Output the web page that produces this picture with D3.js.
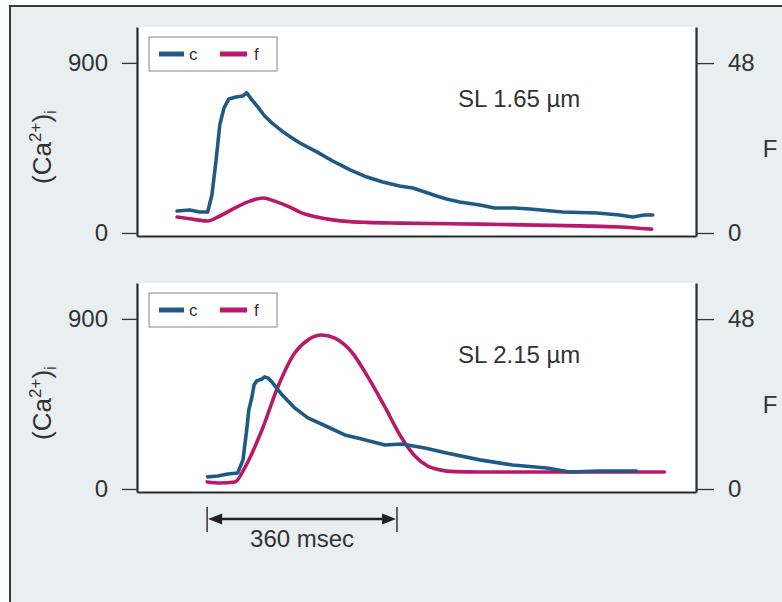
<!DOCTYPE html>
<html><head><meta charset="utf-8">
<script src="https://cdn.jsdelivr.net/npm/d3@7"></script>
<style>
body{margin:0;background:#fff}
svg{display:block}
text{font-family:"Liberation Sans",Arial,Helvetica,sans-serif;fill:#333}
</style>
</head><body>
<svg id="chart" width="782" height="602"></svg>
<script>
// ---- data (time in ms, Ca in nM, F in fluorescence units) ----
const topCaTime = [76,100,119,134,142,150,157,165,174,188,201,208,218,229,242,258,277,294,309,341,371,404,436,466,498,523,546,568,587,612,650,678,716,745,807,872,915,940,962,978];
const topCa     = [116,122,111,111,201,386,572,662,709,720,725,741,704,667,619,577,535,503,476,429,381,334,296,270,249,238,217,196,180,164,148,132,132,127,111,106,95,85,95,95];
const topFTime  = [76,100,134,157,186,214,239,261,290,309,341,371,404,436,498,650,839,915,976];
const topF      = [4.5,4.0,3.4,4.8,7.1,9.0,9.9,9.0,7.3,5.9,4.5,3.7,3.2,3.0,2.8,2.5,2.0,1.7,1.1];
const botCaTime = [134,153,172,191,201,208,212,218,222,227,237,242,248,256,275,299,324,362,394,426,470,502,546,587,650,712,777,820,877,947];
const botCa     = [64,69,79,85,154,312,418,487,551,572,582,593,588,566,498,429,376,328,286,265,233,238,217,191,154,127,111,90,95,95];
const botFTime  = [133,157,186,205,237,267,299,324,350,375,407,438,470,502,527,551,574,602,650,777,1000];
const botF      = [2.0,1.7,2.0,6.2,16.7,28.8,38.4,42.1,43.5,42.6,38.7,31.6,23.2,14.4,9.3,6.5,5.4,4.9,4.8,4.8,4.8];
const leftTicks  = [0, 900];
const rightTicks = [0, 48];
const seriesNames = ["c", "f"];
const panelLabels = ["SL 1.65 \u00b5m", "SL 2.15 \u00b5m"];
const scaleBarMs = [133, 493];
const scaleBarLabel = "360 msec";
const rightLabel = "F";

const colors = {c:"#1f5a86", f:"#b8196a"};

const svg = d3.select("#chart");
svg.append("rect").attr("x",10).attr("y",6).attr("width",790).attr("height",610)
  .attr("fill","#e9eef1").attr("stroke","#3a3a3a").attr("stroke-width",2);

const x = d3.scaleLinear().domain([0,1060]).range([137,696]);

const panels = [
  {top:27, bottom:236, ca:[topCaTime, topCa], f:[topFTime, topF], label:panelLabels[0]},
  {top:283, bottom:492, ca:[botCaTime, botCa], f:[botFTime, botF], label:panelLabels[1]}
];

panels.forEach((p) => {
  const yL = d3.scaleLinear().domain([-16,1090]).range([p.bottom,p.top]);
  const yR = d3.scaleLinear().domain([-0.85,58.2]).range([p.bottom,p.top]);
  const g = svg.append("g");

  g.append("rect").attr("x",x.range()[0]).attr("y",p.top)
    .attr("width",x.range()[1]-x.range()[0]).attr("height",p.bottom-p.top).attr("fill","#fff");

  const caData = p.ca[0].map((t,i)=>[t,p.ca[1][i]]);
  const fData = p.f[0].map((t,i)=>[t,p.f[1][i]]);

  g.append("path").datum(fData)
    .attr("d", d3.line().x(d=>x(d[0])).y(d=>yR(d[1])).curve(d3.curveMonotoneX))
    .attr("fill","none").attr("stroke",colors.f).attr("stroke-width",3.6).attr("stroke-linejoin","round").attr("stroke-linecap","round");
  g.append("path").datum(caData)
    .attr("d", d3.line().x(d=>x(d[0])).y(d=>yL(d[1])).curve(d3.curveLinear))
    .attr("fill","none").attr("stroke",colors.c).attr("stroke-width",3.6).attr("stroke-linejoin","round").attr("stroke-linecap","round");

  // axes
  const axL = g.append("g").attr("transform",`translate(${x.range()[0]},0)`)
    .call(d3.axisLeft(yL).tickValues(leftTicks).tickSize(15).tickSizeOuter(0).tickPadding(14).tickFormat(d3.format("d")));
  const axR = g.append("g").attr("transform",`translate(${x.range()[1]},0)`)
    .call(d3.axisRight(yR).tickValues(rightTicks).tickSize(18).tickSizeOuter(0).tickPadding(14).tickFormat(d3.format("d")));
  const axB = g.append("g").attr("transform",`translate(0,${p.bottom})`)
    .call(d3.axisBottom(x).tickValues([]).tickSizeOuter(0));
  [axL,axR,axB].forEach(a=>{
    a.attr("font-family",null).attr("font-size",null);
    a.select(".domain").attr("stroke","#2a2a2a").attr("stroke-width",2.2);
    a.selectAll(".tick line").attr("stroke","#333").attr("stroke-width",1.3);
    a.selectAll(".tick text").attr("fill","#333").style("font-size","24px");
  });

  // legend
  const lg = g.append("g").attr("transform",`translate(149,${p.top+10})`);
  lg.append("rect").attr("width",128).attr("height",34).attr("fill","#fff").attr("stroke","#9a9a9a").attr("stroke-width",1.2);
  const legX = [[10,35,40],[71,98,105]];
  seriesNames.forEach((n,i)=>{
    lg.append("line").attr("x1",legX[i][0]).attr("x2",legX[i][1]).attr("y1",17).attr("y2",17)
      .attr("stroke",colors[n]).attr("stroke-width",5);
    lg.append("text").attr("x",legX[i][2]).attr("y",23).style("font-size","17px").text(n);
  });

  // panel label
  g.append("text").attr("x",458).attr("y",p.top+80).style("font-size","24px").text(p.label);

  // right label
  g.append("text").attr("x",770).attr("y",p.top+130).attr("text-anchor","middle").style("font-size","24px").text(rightLabel);

  // left label (Ca2+)i
  const yl = g.append("text").attr("transform",`translate(51,${p.top+120}) rotate(-90)`)
    .attr("text-anchor","middle").style("font-size","26px");
  yl.append("tspan").text("(Ca");
  yl.append("tspan").attr("dy",-10).style("font-size","17px").text("2+");
  yl.append("tspan").attr("dy",10).text(")");
  yl.append("tspan").attr("dy",5).style("font-size","17px").text("i");
});

// scale bar
const sb = svg.append("g");
const x0 = x(scaleBarMs[0]), x1 = x(scaleBarMs[1]);
sb.append("line").attr("x1",x0).attr("x2",x0).attr("y1",507).attr("y2",532).attr("stroke","#333").attr("stroke-width",1.5);
sb.append("line").attr("x1",x1).attr("x2",x1).attr("y1",507).attr("y2",532).attr("stroke","#333").attr("stroke-width",1.5);
sb.append("line").attr("x1",x0+8).attr("x2",x1-8).attr("y1",519).attr("y2",519).attr("stroke","#222").attr("stroke-width",2.5);
sb.append("path").attr("d",`M${x0+1},519 L${x0+15},513.5 L${x0+15},524.5 Z`).attr("fill","#222");
sb.append("path").attr("d",`M${x1-1},519 L${x1-15},513.5 L${x1-15},524.5 Z`).attr("fill","#222");
sb.append("text").attr("x",(x0+x1)/2).attr("y",547).attr("text-anchor","middle").style("font-size","24px").text(scaleBarLabel);
</script>
</body></html>
